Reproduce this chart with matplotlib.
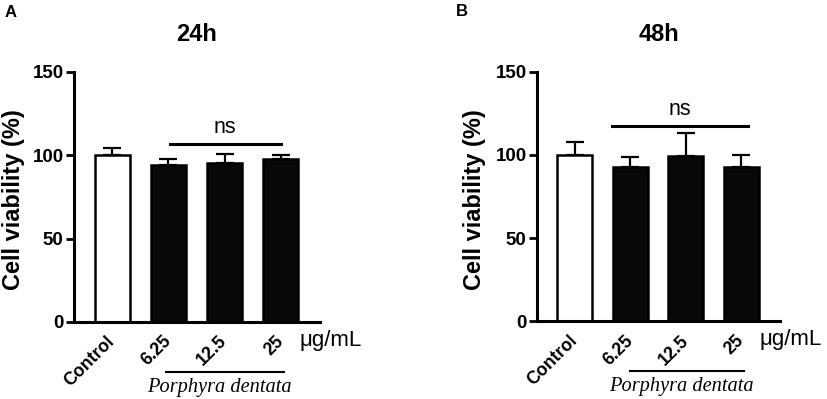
import numpy as np
import matplotlib
matplotlib.use("Agg")
import matplotlib.pyplot as plt

plt.rcParams['font.family'] = ['Liberation Sans', 'DejaVu Sans']

groups = ['Control', '6.25', '12.5', '25']
mean_24h = [100, 94, 95.5, 98]
err_24h = [4.5, 4, 5, 2]
mean_48h = [100, 92.5, 99.5, 93]
err_48h = [8, 6, 14, 7]
colors = ['white', '#0a0707', '#0a0707', '#0a0707']

fig = plt.figure(figsize=(8.27, 3.99), dpi=100)
axA = fig.add_axes([0.0895, 0.193, 0.2975, 0.627])
axB = fig.add_axes([0.6493, 0.195, 0.294, 0.625])


def panel(ax, means, errs, title, ns_y, ns_x, sub_x, lab_x):
    x = np.arange(len(groups))
    ax.bar(x, means, width=0.63, color=colors, edgecolor='black', linewidth=1.8, zorder=2)
    lower = np.zeros(len(errs))
    ax.errorbar(x, means, yerr=[lower, errs], fmt='none', ecolor='black',
                elinewidth=1.6, capsize=6.5, capthick=1.6, zorder=1)
    ax.set_xlim(-0.68, 3.7)
    ax.set_ylim(0, 150)
    ax.set_yticks([0, 50, 100, 150])
    ax.set_xticks(x)
    ax.set_xticklabels(groups, rotation=45, ha='right', va='center',
                       rotation_mode='anchor', fontweight='bold', fontsize=12.8)
    for lab in ax.get_yticklabels():
        lab.set_fontweight('bold')
        lab.set_fontsize(13.5)
    ax.tick_params(axis='x', length=0, pad=12)
    ax.tick_params(axis='y', length=6, width=2, pad=1.5)
    for s in ['top', 'right']:
        ax.spines[s].set_visible(False)
    for s in ['left', 'bottom']:
        ax.spines[s].set_linewidth(2.2)
    ax.set_ylabel('Cell viability (%)', fontweight='bold', fontsize=17)
    ax.yaxis.set_label_coords(lab_x, 0.488)
    ax.set_title(title, fontweight='bold', fontsize=17, pad=22)
    # significance bar
    ax.plot(ns_x, [ns_y, ns_y], color='black', lw=2.2, clip_on=False)
    ax.text(np.mean(ns_x), ns_y + 3.5, 'ns', ha='center', va='bottom', fontsize=15.5)
    # group line below tick labels
    ax.plot(sub_x, [-30, -30], color='black', lw=1.5, clip_on=False)
    ax.text(np.mean(sub_x) - 0.1, -39.5, 'Porphyra dentata', ha='center', va='center',
            fontsize=14.7, family='Liberation Serif', style='italic')
    ax.text(3.33, -11, 'μg/mL', ha='left', va='center', fontsize=16)


panel(axA, mean_24h, err_24h, '24h', 107, [1.02, 3.0], [0.95, 3.05], -0.2)
panel(axB, mean_48h, err_48h, '48h', 117.5, [0.68, 3.12], [1.0, 3.05], -0.21)

fig.text(0.006, 0.968, 'A', fontsize=12, fontweight='bold', ha='left', va='center')
fig.text(0.551, 0.972, 'B', fontsize=12, fontweight='bold', ha='left', va='center')

fig.savefig('out.png', dpi=100)
